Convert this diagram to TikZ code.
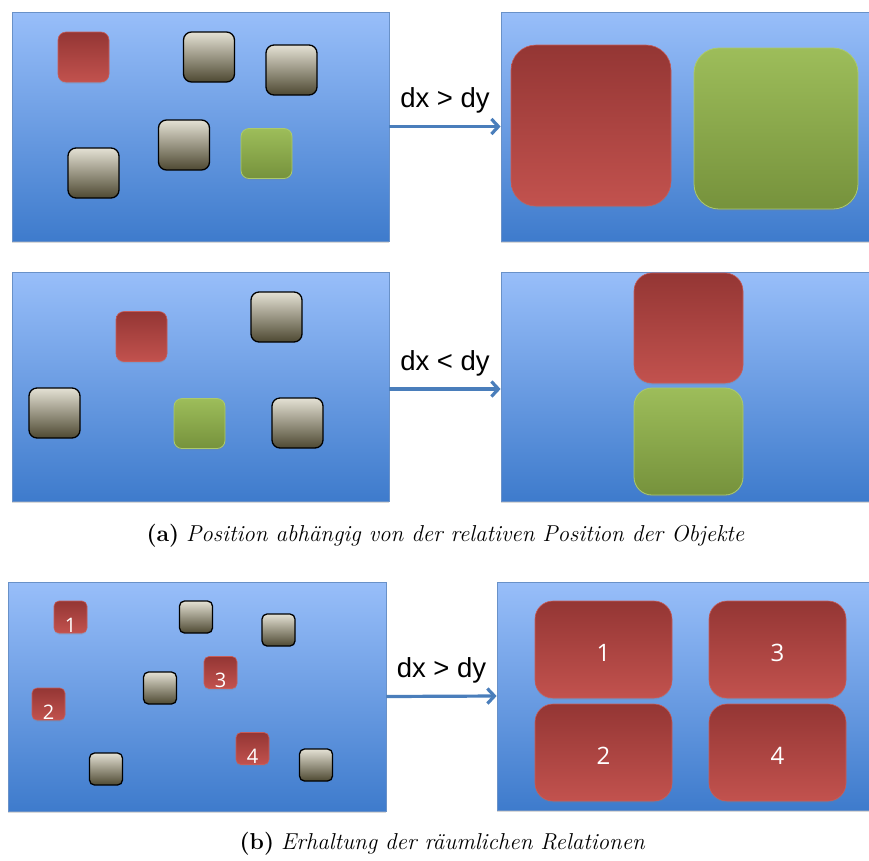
\documentclass[tikz,border=0pt]{standalone}
\usepackage{fontspec}
\newfontfamily\labelfont{Liberation Sans}
\newfontfamily\numfont{Open Sans}
\usetikzlibrary{arrows.meta,shadows}

\definecolor{panelTop}{RGB}{152,190,249}
\definecolor{panelBot}{RGB}{62,123,204}
\definecolor{panelLine}{RGB}{105,145,200}
\definecolor{grayTop}{RGB}{228,225,212}
\definecolor{grayBot}{RGB}{78,73,50}
\definecolor{redTop}{RGB}{148,54,52}
\definecolor{redBot}{RGB}{194,82,78}
\definecolor{redLine}{RGB}{200,92,88}
\definecolor{greenTop}{RGB}{157,189,90}
\definecolor{greenBot}{RGB}{118,146,60}
\definecolor{greenLine}{RGB}{172,202,108}
\definecolor{arrowBlue}{RGB}{74,126,187}

\tikzset{
  panel/.style={rectangle, draw=panelLine, line width=0.8pt, inner sep=0pt,
    top color=panelTop, bottom color=panelBot,
    drop shadow={shadow xshift=0pt, shadow yshift=-2pt, opacity=0.3}},
  obj/.style={rectangle, inner sep=0pt, rounded corners=8pt,
    minimum width=51pt, minimum height=50pt},
  tiny/.style={rounded corners=5pt, minimum width=33pt, minimum height=32pt},
  softshadow/.style={drop shadow={shadow xshift=0pt, shadow yshift=-1.5pt, opacity=0.25}},
  graybox/.style={obj, draw=black, line width=1.3pt, top color=grayTop, bottom color=grayBot},
  redbox/.style={obj, draw=redLine, line width=0.6pt, top color=redTop, bottom color=redBot, softshadow},
  greenbox/.style={obj, draw=greenLine, line width=0.8pt, top color=greenTop, bottom color=greenBot, softshadow},
  flow/.style={draw=arrowBlue, line width=3.2pt, -{Straight Barb[length=7pt,width=15pt]}},
  dxlabel/.style={anchor=base, yshift=19pt, inner sep=0pt,
    font=\labelfont\fontsize{27.5}{31}\selectfont},
  numsmall/.style={text=white, font=\numfont\fontsize{20}{22}\selectfont},
  numbig/.style={text=white, font=\numfont\fontsize{24}{28}\selectfont},
  caption/.style={anchor=base, inner sep=0pt, font=\fontsize{23}{27}\selectfont}
}

\begin{document}
\begin{tikzpicture}[x=1pt, y=-1pt]
\useasboundingbox (0,0) rectangle (869,860);

% ---- row 1: dx > dy, two objects side by side
\node[panel, minimum width=377pt, minimum height=229pt] (p1) at (200.5,126.5) {};
\node[panel, minimum width=374pt, minimum height=229pt] (p2) at (688,126.5) {};

\node[redbox]   (a1) at (83.5,57) {};
\node[graybox]  (a2) at (209,57) {};
\node[graybox]  (a3) at (291.5,70) {};
\node[graybox]  (a4) at (93.5,173) {};
\node[graybox]  (a5) at (184,145) {};
\node[greenbox] (a6) at (266.5,153.5) {};

\node[redbox, rounded corners=25pt, minimum width=160pt, minimum height=161pt] (b1) at (591,125.5) {};
\node[greenbox, rounded corners=25pt, minimum width=164pt, minimum height=161pt] (b2) at (776,128.5) {};

\draw[flow] (p1.east) -- node[dxlabel] {dx > dy} (p2.west);

% ---- row 2: dx < dy, objects stacked
\node[panel, minimum width=377pt, minimum height=229pt] (p3) at (200.5,386.5) {};
\node[panel, minimum width=374pt, minimum height=229pt] (p4) at (688,386.5) {};

\node[redbox]   (c1) at (141.5,336.5) {};
\node[graybox]  (c2) at (276.5,317) {};
\node[graybox]  (c3) at (54.5,413) {};
\node[greenbox] (c4) at (199.5,423.5) {};
\node[graybox]  (c5) at (297.5,423) {};

\node[redbox, rounded corners=18pt, minimum width=109pt, minimum height=110pt] (d1) at (688.5,328) {};
\node[greenbox, rounded corners=18pt, minimum width=109pt, minimum height=107pt] (d2) at (688.5,441.5) {};

\draw[flow] ([yshift=-2.5pt]p3.east) -- node[dxlabel] {dx < dy} ([yshift=-2.5pt]p4.west);

\node[caption] (capa) at (445.5,541) {\textbf{(a)} \textit{Position abhängig von der relativen Position der Objekte}};

% ---- row 3: spatial relations kept
\node[panel, minimum width=378pt, minimum height=229pt] (p5) at (197,696.5) {};
\node[panel, minimum width=378pt, minimum height=228pt] (p6) at (686,696) {};

\node[redbox, tiny, numsmall]  (e1) at (70.5,617) {\raisebox{-15pt}[0pt][0pt]{1}};
\node[graybox, tiny]           (e2) at (196,617) {};
\node[graybox, tiny]           (e3) at (278.5,630) {};
\node[redbox, tiny, numsmall]  (e4) at (220.5,672.5) {\raisebox{-15pt}[0pt][0pt]{3}};
\node[graybox, tiny]           (e5) at (160,688) {};
\node[redbox, tiny, numsmall]  (e6) at (48.5,704) {\raisebox{-15pt}[0pt][0pt]{2}};
\node[redbox, tiny, numsmall]  (e7) at (252.5,748.5) {\raisebox{-15pt}[0pt][0pt]{4}};
\node[graybox, tiny]           (e8) at (106,769) {};
\node[graybox, tiny]           (e9) at (316,765) {};

\tikzset{bigred/.style={redbox, numbig, rounded corners=18pt, minimum width=137pt, minimum height=97pt}}
\node[bigred] (f1) at (603.5,649.5) {\raisebox{-11.5pt}[0pt][0pt]{1}};
\node[bigred] (f3) at (777.5,649.5) {\raisebox{-11.5pt}[0pt][0pt]{3}};
\node[bigred] (f2) at (603.5,752.5) {\raisebox{-11.5pt}[0pt][0pt]{2}};
\node[bigred] (f4) at (777.5,752.5) {\raisebox{-11.5pt}[0pt][0pt]{4}};

\draw[flow] (p5.east) -- node[dxlabel] {dx > dy} (p6.west);

\node[caption] (capb) at (442.5,849) {\textbf{(b)} \textit{Erhaltung der räumlichen Relationen}};
\end{tikzpicture}
\end{document}
